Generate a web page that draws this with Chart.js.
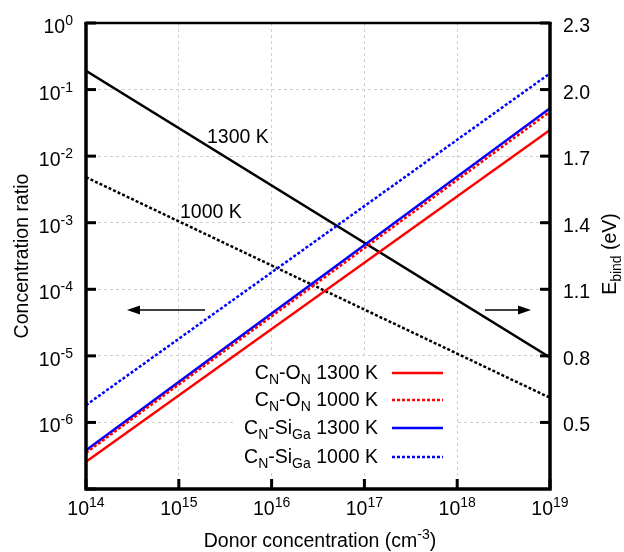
<!DOCTYPE html>
<html><head><meta charset="utf-8">
<script src="https://cdn.jsdelivr.net/npm/chart.js@4"></script>
<style>html,body{margin:0;padding:0;background:#fff}#wrap{width:624px;height:552px}</style>
</head><body><div id="wrap"><canvas id="c" width="624" height="552"></canvas></div>
<script>
// ---- data ----
const donor = [1e14, 1e19];
const cnOn1300 = [2.57e-7, 0.0247];
const cnOn1000 = [3.5e-7, 0.0466];
const cnSi1300 = [3.8e-7, 0.0523];
const cnSi1000 = [1.82e-6, 0.175];
const ebind1300 = [2.085, 0.793];
const ebind1000 = [1.605, 0.611];
const xTickExp = [14, 15, 16, 17, 18, 19];
const yTickExp = [0, -1, -2, -3, -4, -5, -6, -7];
const y2Ticks = ['0.5', '0.8', '1.1', '1.4', '1.7', '2.0', '2.3'];

const FONT = '"Liberation Sans", Arial, Helvetica, sans-serif';
const BIG = 19.5, SMALL = 14;

function pts(ys) { return donor.map((x, i) => ({ x: x, y: ys[i] })); }

function richWidth(ctx, parts) {
  let w = 0;
  for (const p of parts) {
    ctx.font = (p.s === 'n' ? BIG : SMALL) + 'px ' + FONT;
    w += ctx.measureText(p.t).width;
  }
  return w;
}
function rich(ctx, parts, x, y, align) {
  const w = richWidth(ctx, parts);
  let cx = align === 'right' ? x - w : align === 'center' ? x - w / 2 : x;
  ctx.textAlign = 'left';
  ctx.textBaseline = 'alphabetic';
  for (const p of parts) {
    ctx.font = (p.s === 'n' ? BIG : SMALL) + 'px ' + FONT;
    const dy = p.s === 'sub' ? 5 : p.s === 'sup' ? -8 : 0;
    ctx.fillText(p.t, cx, y + dy);
    cx += ctx.measureText(p.t).width;
  }
}
const N = (t) => ({ t: t, s: 'n' });
const SUB = (t) => ({ t: t, s: 'sub' });
const SUP = (t) => ({ t: t, s: 'sup' });

const legendItems = [
  { parts: [N('C'), SUB('N'), N('-O'), SUB('N'), N(' 1300 K')], color: '#ff0000', dash: [] },
  { parts: [N('C'), SUB('N'), N('-O'), SUB('N'), N(' 1000 K')], color: '#ff0000', dash: [3, 2] },
  { parts: [N('C'), SUB('N'), N('-Si'), SUB('Ga'), N(' 1300 K')], color: '#0000ff', dash: [] },
  { parts: [N('C'), SUB('N'), N('-Si'), SUB('Ga'), N(' 1000 K')], color: '#0000ff', dash: [3, 2] }
];

const decor = {
  id: 'decor',
  beforeDatasetsDraw(chart) {
    const ctx = chart.ctx;
    ctx.save();
    ctx.fillStyle = '#fff';
    ctx.fillRect(234, 359, 222, 112);
    ctx.restore();
  },
  afterDraw(chart) {
    const ctx = chart.ctx;
    const a = chart.chartArea;
    const sx = chart.scales.x, sy = chart.scales.y, sy2 = chart.scales.y2;
    ctx.save();
    ctx.strokeStyle = '#000';
    ctx.fillStyle = '#000';
    // frame
    ctx.lineWidth = 3.5;
    ctx.beginPath();
    ctx.moveTo(a.left, a.top); ctx.lineTo(a.left, a.bottom); ctx.lineTo(a.right, a.bottom); ctx.lineTo(a.right, a.top);
    ctx.stroke();
    ctx.lineWidth = 2.5;
    ctx.beginPath(); ctx.moveTo(a.left - 1.75, a.top); ctx.lineTo(a.right + 1.75, a.top); ctx.stroke();
    // tick marks
    ctx.lineWidth = 3;
    const TL = 10;
    for (const e of yTickExp) {
      const y = sy.getPixelForValue(Math.pow(10, e));
      ctx.beginPath(); ctx.moveTo(a.left, y); ctx.lineTo(a.left + TL, y); ctx.stroke();
    }
    for (const v of y2Ticks) {
      const y = sy2.getPixelForValue(parseFloat(v));
      ctx.beginPath(); ctx.moveTo(a.right, y); ctx.lineTo(a.right - TL, y); ctx.stroke();
    }
    for (const e of xTickExp) {
      const x = sx.getPixelForValue(Math.pow(10, e));
      ctx.beginPath(); ctx.moveTo(x, a.bottom); ctx.lineTo(x, a.bottom - TL); ctx.stroke();
    }
    // tick labels
    for (const e of yTickExp) {
      if (e === -7) continue;
      const y = sy.getPixelForValue(Math.pow(10, e));
      const sup = e === 0 ? '0' : '-' + (-e);
      rich(ctx, [N('10'), { t: sup, s: 'sup' }], a.left - 13, y + 10, 'right');
    }
    for (const v of y2Ticks) {
      const y = sy2.getPixelForValue(parseFloat(v));
      rich(ctx, [N(v)], a.right + 13, y + 9, 'left');
    }
    for (const e of xTickExp) {
      const x = sx.getPixelForValue(Math.pow(10, e));
      rich(ctx, [N('10'), SUP(String(e))], x, a.bottom + 26, 'center');
    }
    // axis titles
    rich(ctx, [N('Donor concentration (cm'), SUP('-3'), N(')')], (a.left + a.right) / 2 + 2, 547, 'center');
    ctx.save();
    ctx.translate(28, (a.top + a.bottom) / 2);
    ctx.rotate(-Math.PI / 2);
    rich(ctx, [N('Concentration ratio')], 0, 0, 'center');
    ctx.restore();
    ctx.save();
    ctx.translate(616, 254);
    ctx.rotate(-Math.PI / 2);
    rich(ctx, [N('E'), SUB('bind'), N(' (eV)')], 0, 0, 'center');
    ctx.restore();
    // curve annotations
    rich(ctx, [N('1300 K')], 207, 143, 'left');
    rich(ctx, [N('1000 K')], 180, 218, 'left');
    // arrows
    ctx.lineWidth = 1.5;
    ctx.beginPath(); ctx.moveTo(205, 310); ctx.lineTo(136, 310); ctx.stroke();
    ctx.beginPath(); ctx.moveTo(127, 310); ctx.lineTo(140, 305.5); ctx.lineTo(140, 314.5); ctx.closePath(); ctx.fill();
    ctx.beginPath(); ctx.moveTo(485, 310); ctx.lineTo(522, 310); ctx.stroke();
    ctx.beginPath(); ctx.moveTo(531, 310); ctx.lineTo(518, 305.5); ctx.lineTo(518, 314.5); ctx.closePath(); ctx.fill();
    // legend
    const rowsY = [373, 400, 428, 457];
    legendItems.forEach((it, i) => {
      const y = rowsY[i];
      ctx.fillStyle = '#000';
      rich(ctx, it.parts, 378, y + 6, 'right');
      ctx.strokeStyle = it.color;
      ctx.lineWidth = 2.5;
      ctx.setLineDash(it.dash);
      ctx.beginPath(); ctx.moveTo(392, y); ctx.lineTo(443, y); ctx.stroke();
      ctx.setLineDash([]);
    });
    ctx.restore();
  }
};

Chart.defaults.font.family = FONT;
new Chart(document.getElementById('c'), {
  type: 'line',
  data: {
    datasets: [
      { label: 'CN-ON 1300 K', data: pts(cnOn1300), borderColor: '#ff0000', borderWidth: 2.5, yAxisID: 'y' },
      { label: 'CN-ON 1000 K', data: pts(cnOn1000), borderColor: '#ff0000', borderWidth: 2.5, borderDash: [3, 2], yAxisID: 'y' },
      { label: 'CN-SiGa 1300 K', data: pts(cnSi1300), borderColor: '#0000ff', borderWidth: 2.5, yAxisID: 'y' },
      { label: 'CN-SiGa 1000 K', data: pts(cnSi1000), borderColor: '#0000ff', borderWidth: 2.5, borderDash: [3, 2], yAxisID: 'y' },
      { label: 'Ebind 1300 K', data: pts(ebind1300), borderColor: '#000', borderWidth: 2.5, yAxisID: 'y2' },
      { label: 'Ebind 1000 K', data: pts(ebind1000), borderColor: '#000', borderWidth: 2.5, borderDash: [3, 2], yAxisID: 'y2' }
    ]
  },
  options: {
    responsive: false,
    animation: false,
    devicePixelRatio: 1,
    layout: { padding: { top: 23, left: 0, right: 0, bottom: 0 } },
    elements: { point: { radius: 0 }, line: { tension: 0, borderCapStyle: 'butt' } },
    plugins: { legend: { display: false }, tooltip: { enabled: false } },
    scales: {
      x: {
        type: 'logarithmic', min: 1e14, max: 1e19,
        afterBuildTicks: s => { s.ticks = xTickExp.map(e => ({ value: Math.pow(10, e) })); },
        afterFit: s => { s.height = 63; },
        ticks: { display: false },
        grid: { color: '#cfcfcf', lineWidth: 1, drawTicks: false },
        border: { display: false, dash: [3, 3] }
      },
      y: {
        type: 'logarithmic', position: 'left', min: 1e-7, max: 1,
        afterBuildTicks: s => { s.ticks = yTickExp.map(e => ({ value: Math.pow(10, e) })); },
        afterFit: s => { s.width = 86; },
        ticks: { display: false },
        grid: { color: '#cfcfcf', lineWidth: 1, drawTicks: false },
        border: { display: false, dash: [3, 3] }
      },
      y2: {
        type: 'linear', position: 'right', min: 0.2, max: 2.3,
        afterFit: s => { s.width = 74; },
        ticks: { display: false },
        grid: { display: false, drawTicks: false },
        border: { display: false }
      }
    }
  },
  plugins: [decor]
});
</script>
</body></html>
